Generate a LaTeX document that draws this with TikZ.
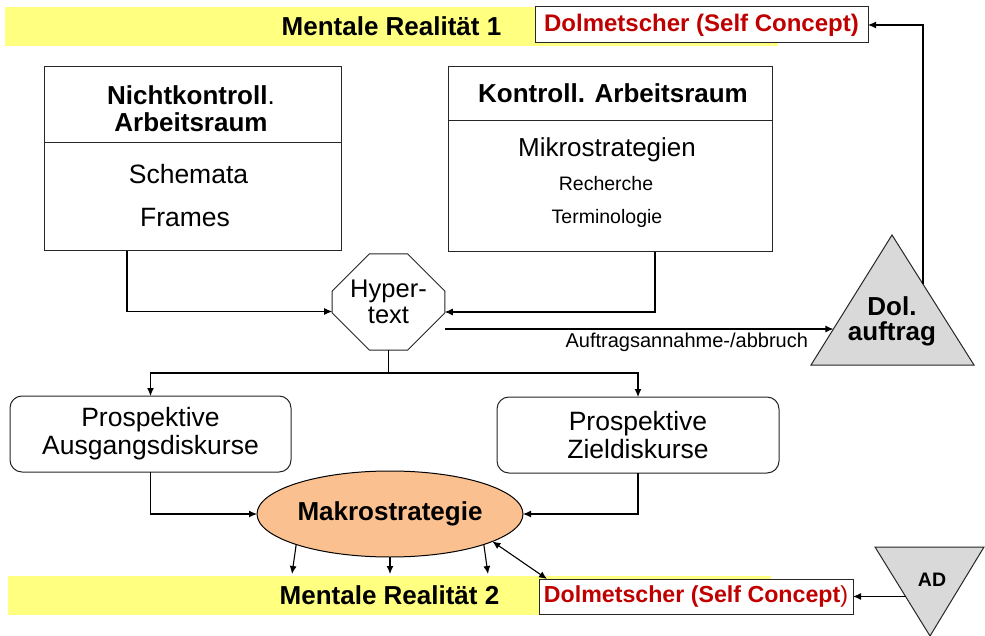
\documentclass[tikz,border=0pt]{standalone}
\usepackage{fontspec}
\setmainfont{Liberation Sans}
\usetikzlibrary{arrows.meta,shapes.geometric,shapes.misc,calc}
\definecolor{bandyellow}{RGB}{255,255,128}
\definecolor{selfred}{RGB}{192,0,0}
\definecolor{makro}{RGB}{250,192,143}
\definecolor{trigray}{RGB}{217,217,217}
\newcommand{\szbig}{\fontsize{26}{27}\selectfont}
\newcommand{\szbody}{\fontsize{26.5}{27}\selectfont}
\newcommand{\szmid}{\fontsize{26}{27}\selectfont}
\newcommand{\szsmall}{\fontsize{19.5}{21}\selectfont}
\newcommand{\szhyp}{\fontsize{25.5}{26}\selectfont}
\newcommand{\szpro}{\fontsize{26.5}{28}\selectfont}
\newcommand{\szlab}{\fontsize{20}{22}\selectfont}
\newcommand{\szself}{\fontsize{24}{25}\selectfont}
\newcommand{\szselfb}{\fontsize{23.2}{25}\selectfont}
\begin{document}
\begin{tikzpicture}[x=1pt,y=-1pt,
  every node/.style={inner sep=0pt, outer sep=0pt},
  frame/.style={draw=black!85, line width=1pt, fill=white},
  conn/.style={line width=1.1pt},
  arr/.style={conn, -{Latex[length=8pt,width=7pt]}},
  dblarr/.style={conn, {Latex[length=8pt,width=7pt]}-{Latex[length=8pt,width=7pt]}},
  band/.style={fill=bandyellow, minimum height=39pt, font=\szbig\bfseries},
  selfbox/.style={frame, text=selfred},
  tri/.style={draw=black!85, line width=1pt, fill=trigray, line join=miter},
  probox/.style={frame, rounded corners=12pt, align=center, font=\szpro}
]
\useasboundingbox (0,0) rectangle (985,636);

% yellow bands of the two mental realities
\node[band, minimum width=773pt] (mr1) at (391.5,26.5) {Mentale Realität 1};
\node[band, minimum width=763pt] (mr2) at (389.5,595.5) {Mentale Realität 2};

% self-concept boxes
\node[selfbox, font=\szself\bfseries, minimum width=333pt, minimum height=36pt] (self1) at (701.5,25) {Dolmetscher (Self Concept)};
\node[selfbox, font=\szselfb\bfseries, minimum width=314pt, minimum height=35pt] (self2) at (696,596.5) {Dolmetscher (Self Concept{\mdseries )}};

% non-controlled workspace
\node[frame, minimum width=297pt, minimum height=76pt] (nkhead) at (192.5,105) {};
\node[frame, minimum width=297pt, minimum height=108pt] (nkbody) at (192.5,197) {};
\node[anchor=base, font=\szbig\bfseries] (nkt1) at (191,105) {Nichtkontroll{\mdseries .}};
\node[anchor=base, font=\szbig\bfseries] (nkt2) at (191,132) {Arbeitsraum};
\node[anchor=base, font=\szbody] (schem) at (188.5,184) {Schemata};
\node[anchor=base, font=\szbody] (frames) at (185,227) {Frames};

% controlled workspace
\node[frame, minimum width=324pt, minimum height=54pt] (khead) at (610,94) {};
\node[frame, minimum width=324pt, minimum height=131pt] (kbody) at (610,186.5) {};
\node[anchor=base, font=\szbig\bfseries] (kt) at (613,103) {Kontroll. Arbeitsraum};
\node[anchor=base, font=\szmid] (mikro) at (607,157) {Mikrostrategien};
\node[anchor=base, font=\szsmall] (rech) at (606,191) {Recherche};
\node[anchor=base, font=\szsmall] (term) at (607,224) {Terminologie};

% hypertext octagon
\node[frame, chamfered rectangle, chamfered rectangle xsep=18pt, chamfered rectangle ysep=19pt,
      minimum width=97pt, minimum height=96pt, align=center, font=\szhyp] (hyper) at (388.5,302) {Hyper-\\text};

% prospective discourses
\node[probox, minimum width=281pt, minimum height=76pt] (pa) at (150.5,434) {Prospektive\\Ausgangsdiskurse};
\node[probox, minimum width=282pt, minimum height=76pt] (pz) at (638,435) {Prospektive\\Zieldiskurse};

% macro strategy
\node[ellipse, draw=black, line width=1pt, fill=makro, minimum width=266pt, minimum height=86pt,
      font=\szbig\bfseries] (mak) at (390,514) {Makrostrategie};

% interpreting assignment
\coordinate (dA) at (892,235);
\coordinate (dL) at (811,365);
\coordinate (dR) at (974,365);
\filldraw[tri] (dA) -- (dR) -- (dL) -- cycle;
\node[align=center, font=\fontsize{26}{25}\selectfont\bfseries] (dol) at (892,321) {Dol.\\auftrag};

% AD triangle
\coordinate (aL) at (875,547);
\coordinate (aR) at (984,547);
\coordinate (aB) at (930,636);
\filldraw[tri] (aL) -- (aR) -- (aB) -- cycle;
\node[font=\fontsize{19.5}{20}\selectfont\bfseries] (ad) at (932,580) {AD};

% connectors
\draw[arr] ([xshift=-65.5pt]nkbody.south) |- ([yshift=-9.5pt]hyper.west);
\draw[arr] ([xshift=45pt]kbody.south) |- ([yshift=-10pt]hyper.east);

\coordinate (dIn) at ($(dL)!0.277!(dA)$);
\draw[arr] (hyper.east |- dIn) -- (dIn);
\node[anchor=base east, font=\szlab] (auf) at (808,347) {Auftragsannahme-/abbruch};

\coordinate (dOut) at ($(dA)!0.378!(dR)$);
\draw[arr] (dOut) |- (self1.east);

\coordinate (fork) at (388.5,373);
\draw[conn] (hyper.south) -- (fork);
\draw[arr] (fork) -| (pa.north);
\draw[arr] (fork) -| (pz.north);
\draw[arr] (pa.south) |- (mak.west);
\draw[arr] (pz.south) |- (mak.east);

\coordinate (m1) at (292,574);
\coordinate (m2) at (390,574);
\coordinate (m3) at (488,574);
\draw[arr] (mak.-162) -- (m1);
\draw[arr] (mak.south) -- (m2);
\draw[arr] (mak.-18) -- (m3);
\draw[dblarr] (mak.-15) -- ([xshift=8pt]self2.north west);

\coordinate (adIn) at ($(aL)!0.556!(aB)$);
\draw[arr] (adIn) -- (adIn -| self2.east);
\end{tikzpicture}
\end{document}
